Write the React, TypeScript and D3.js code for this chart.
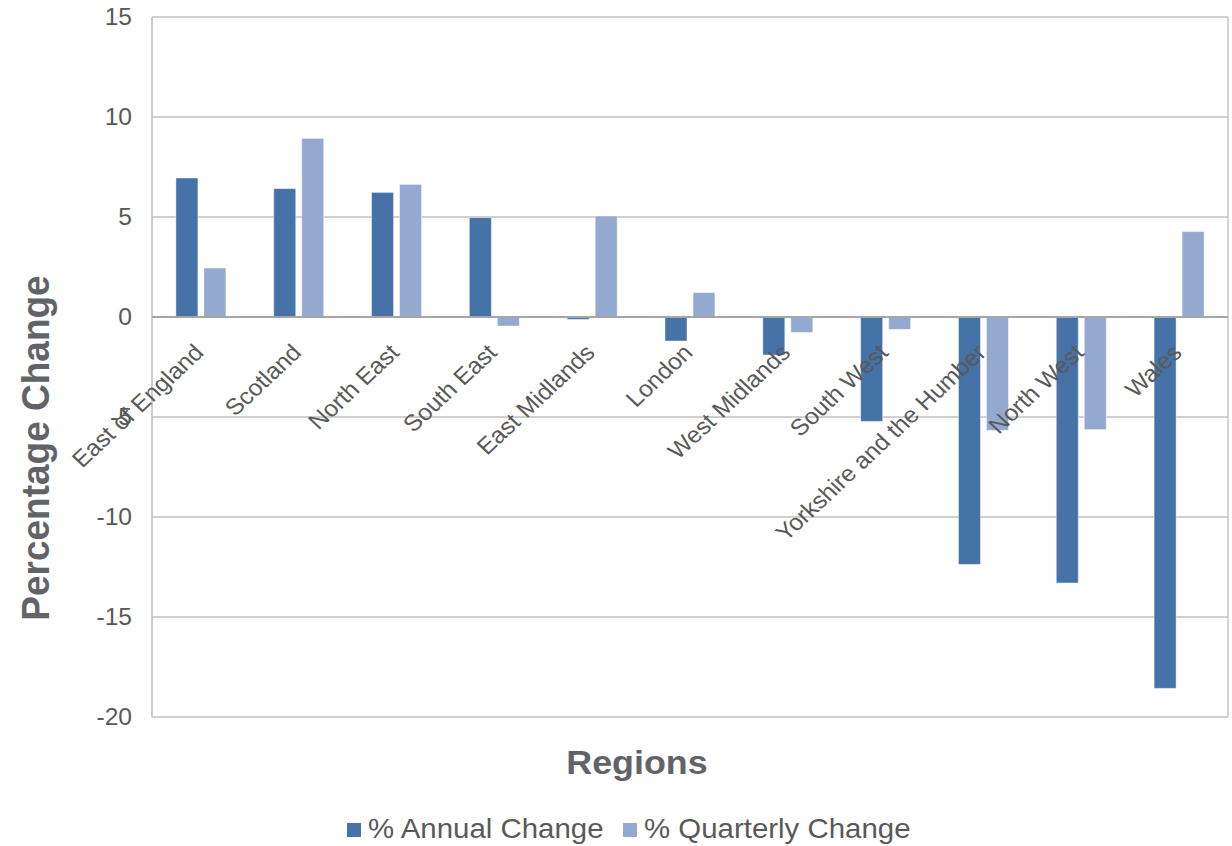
import React from 'react';
import * as d3 from 'd3';

// Regional percentage change, annual vs quarterly
const regions = [
  'East of England',
  'Scotland',
  'North East',
  'South East',
  'East Midlands',
  'London',
  'West Midlands',
  'South West',
  'Yorkshire and the Humber',
  'North West',
  'Wales',
];
const annualChange = [6.95, 6.42, 6.23, 4.97, -0.12, -1.2, -1.9, -5.22, -12.37, -13.3, -18.57];
const quarterlyChange = [2.45, 8.93, 6.63, -0.45, 5.05, 1.22, -0.77, -0.62, -5.67, -5.63, 4.27];
const seriesNames = ['% Annual Change', '% Quarterly Change'];
const yTicks = [15, 10, 5, 0, -5, -10, -15, -20];

const W = 1232;
const H = 846;
const margin = { left: 152, right: 4, top: 17, bottom: 129 };
const SX = 1.07; // horizontal text stretch
const colors = ['#4572A7', '#94A9CF'];
const textColor = '#595959';
const titleColor = '#626366';
const font = '"Liberation Sans", Arial, sans-serif';

const stretch = (x: number, y: number, extra = '') => `translate(${x},${y}) scale(${SX},1) ${extra}`;

export default function App() {
  const x = d3
    .scaleBand<string>()
    .domain(regions)
    .range([margin.left, W - margin.right])
    .padding(0);
  const inner = d3
    .scaleBand<string>()
    .domain(seriesNames)
    .range([x.bandwidth() / 2 - 25, x.bandwidth() / 2 + 25])
    .paddingInner(6 / 28)
    .paddingOuter(0);
  const y = d3.scaleLinear().domain([-20, 15]).range([H - margin.bottom, margin.top]);

  const series = [annualChange, quarterlyChange];
  const plotLeft = margin.left;
  const plotRight = W - margin.right;

  return (
    <svg
      width={W}
      height={H}
      style={{ position: 'absolute', left: 0, top: 0, background: '#fff' }}
      fontFamily={font}
    >
      <rect x={0} y={0} width={W} height={H} fill="#fff" />
      {/* gridlines */}
      {yTicks.map((t) => (
        <line
          key={`g${t}`}
          x1={plotLeft}
          x2={plotRight}
          y1={y(t)}
          y2={y(t)}
          stroke="#c0c0c0"
          strokeWidth={1.4}
        />
      ))}
      <line x1={plotLeft} x2={plotLeft} y1={y(15)} y2={y(-20)} stroke="#bfbfbf" strokeWidth={1.6} />
      <line x1={plotRight} x2={plotRight} y1={y(15)} y2={y(-20)} stroke="#c4c4c4" strokeWidth={1.4} />

      {/* tick labels */}
      {yTicks.map((t) => (
        <text
          key={`t${t}`}
          transform={stretch(132, y(t))}
          textAnchor="end"
          dominantBaseline="central"
          fontSize={23}
          fill={textColor}
        >
          {t}
        </text>
      ))}

      {/* bars */}
      {series.map((vals, si) =>
        vals.map((v, i) => {
          const bx = (x(regions[i]) as number) + (inner(seriesNames[si]) as number);
          const y0 = y(0);
          const yv = y(v);
          return (
            <rect
              key={`b${si}-${i}`}
              x={bx}
              y={Math.min(y0, yv)}
              width={inner.bandwidth()}
              height={Math.abs(yv - y0)}
              fill={colors[si]}
              stroke="rgba(255,255,255,0.45)"
              strokeWidth={1}
            />
          );
        })
      )}

      {/* zero line */}
      <line x1={plotLeft} x2={plotRight} y1={y(0)} y2={y(0)} stroke="#a6a6a6" strokeWidth={2} />

      {/* category labels */}
      {regions.map((r) => (
        <text
          key={`c${r}`}
          transform={stretch((x(r) as number) + x.bandwidth() / 2 + 4, y(0) + 37, 'rotate(-45)')}
          textAnchor="end"
          fontSize={23}
          fill={textColor}
        >
          {r}
        </text>
      ))}

      {/* axis titles */}
      <text
        transform={stretch(35, 448, 'rotate(-90)')}
        textAnchor="middle"
        dominantBaseline="central"
        fontSize={37}
        fontWeight="bold"
        fill={titleColor}
      >
        Percentage Change
      </text>
      <text
        transform={stretch(637, 774)}
        textAnchor="middle"
        fontSize={33.5}
        fontWeight="bold"
        fill={titleColor}
      >
        Regions
      </text>

      {/* legend */}
      {seriesNames.map((name, i) => {
        const lx = [347, 623][i];
        return (
          <g key={`l${name}`}>
            <rect x={lx} y={823} width={14} height={14} fill={colors[i]} />
            <text transform={stretch(lx + 21, 838)} fontSize={27.5} fill={textColor}>
              {name}
            </text>
          </g>
        );
      })}
    </svg>
  );
}
